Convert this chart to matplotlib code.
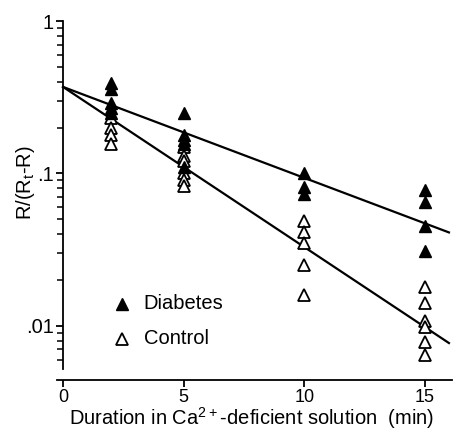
import matplotlib
matplotlib.use("Agg")
import matplotlib.pyplot as plt
from matplotlib.ticker import LogLocator, FixedLocator, NullFormatter

plt.rcParams['font.family'] = ['Liberation Sans', 'DejaVu Sans']
plt.rcParams['mathtext.fontset'] = 'custom'
plt.rcParams['mathtext.rm'] = 'Liberation Sans'

# --- data ---
diab_x2 = [0.39, 0.36, 0.29, 0.27, 0.25]
ctrl_x2 = [0.23, 0.20, 0.18, 0.155]
diab_x5 = [0.25, 0.18, 0.165, 0.155, 0.11]
ctrl_x5 = [0.15, 0.13, 0.12, 0.10, 0.09, 0.083]
diab_x10 = [0.10, 0.082, 0.073]
ctrl_x10 = [0.049, 0.041, 0.035, 0.025, 0.016]
diab_x15 = [0.078, 0.065, 0.045, 0.031]
ctrl_x15 = [0.018, 0.014, 0.0108, 0.0098, 0.0078, 0.0064]

# regression lines (endpoints)
fit_x = [0, 16]
fit_diab = [0.37, 0.041]
fit_ctrl = [0.37, 0.0077]

xticks = [0, 5, 10, 15]
yticks = [0.01, 0.1, 1]
ytick_labels = ['.01', '.1', '1']

fs = 14.5      # axis labels / legend
fs_tick = 13   # x tick labels

fig = plt.figure(figsize=(4.57, 4.37), dpi=100)
ax = fig.add_axes([0.1247, 0.1556, 0.864, 0.796])

ms = 8.5
for t, d, c in [(2, diab_x2, ctrl_x2), (5, diab_x5, ctrl_x5),
                (10, diab_x10, ctrl_x10), (15, diab_x15, ctrl_x15)]:
    ax.plot([t] * len(c), c, linestyle='none', marker='^', ms=ms,
            mfc='white', mec='black', mew=1.3, zorder=3)
    ax.plot([t] * len(d), d, linestyle='none', marker='^', ms=ms,
            mfc='black', mec='black', mew=1.0, zorder=4)

ax.plot(fit_x, fit_diab, color='black', lw=1.6, zorder=2)
ax.plot(fit_x, fit_ctrl, color='black', lw=1.6, zorder=2)

ax.set_yscale('log')
ax.set_xlim(-0.25, 16.12)
ax.set_ylim(0.0052, 1)

# spines: y axis sits at x=0, x axis pushed down a bit
ax.spines['top'].set_visible(False)
ax.spines['right'].set_visible(False)
ax.spines['left'].set_position(('data', 0))
ax.spines['bottom'].set_position(('outward', 8))
ax.spines['left'].set_linewidth(1.3)
ax.spines['bottom'].set_linewidth(1.3)

ax.set_xticks(xticks)
ax.yaxis.set_major_locator(FixedLocator(yticks))
ax.set_yticklabels(ytick_labels)
ax.yaxis.set_minor_locator(LogLocator(base=10, subs=range(2, 10)))
ax.yaxis.set_minor_formatter(NullFormatter())
ax.tick_params(axis='both', which='major', direction='out', length=5,
               width=1.3, labelsize=fs_tick, pad=1.5)
ax.tick_params(axis='y', which='major', labelsize=fs)
ax.tick_params(axis='y', which='minor', direction='out', length=4, width=1.1)

ax.set_xlabel(r'Duration in Ca$\mathregular{^{2+}}$-deficient solution  (min)',
              fontsize=fs, va='center')
ax.xaxis.set_label_coords(0.494, -0.141)
ax.set_ylabel(r'R/(R$\mathregular{_t}$-R)', fontsize=fs, va='center')
ax.yaxis.set_label_coords(-0.081, 0.535)

# legend drawn by hand like the original
ax.plot([2.45], [0.0139], marker='^', ms=ms, mfc='black', mec='black', linestyle='none')
ax.plot([2.45], [0.0082], marker='^', ms=ms, mfc='white', mec='black', mew=1.3, linestyle='none')
ax.text(3.35, 0.0139, 'Diabetes', fontsize=fs, va='center')
ax.text(3.35, 0.0082, 'Control', fontsize=fs, va='center')

fig.savefig('out.png', dpi=100)
